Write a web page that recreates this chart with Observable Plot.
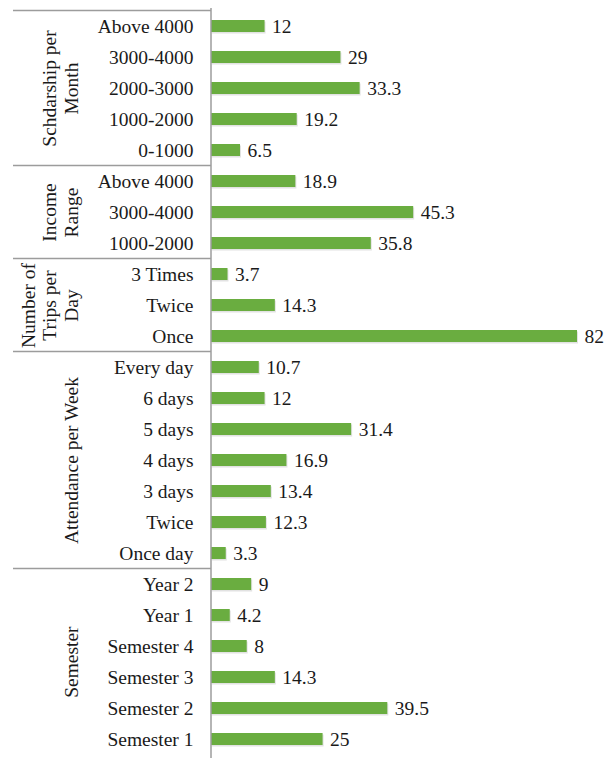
<!DOCTYPE html>
<html><head><meta charset="utf-8">
<script src="https://cdn.jsdelivr.net/npm/d3@7"></script>
<script src="https://cdn.jsdelivr.net/npm/@observablehq/plot@0.6"></script>
<style>
html,body{margin:0;padding:0;background:#fff;}
#chart{width:614px;height:758px;}
#chart svg text{font-family:"Liberation Serif","Times New Roman",serif;}
</style>
</head><body><div id="chart"></div>
<script>
// ---- data ----
const scholarshipCats = ["Above 4000", "3000-4000", "2000-3000", "1000-2000", "0-1000"];
const scholarshipVals = [12, 29, 33.3, 19.2, 6.5];
const incomeCats = ["Above 4000", "3000-4000", "1000-2000"];
const incomeVals = [18.9, 45.3, 35.8];
const tripsCats = ["3 Times", "Twice", "Once"];
const tripsVals = [3.7, 14.3, 82];
const attendanceCats = ["Every day", "6 days", "5 days", "4 days", "3 days", "Twice", "Once day"];
const attendanceVals = [10.7, 12, 31.4, 16.9, 13.4, 12.3, 3.3];
const semesterCats = ["Year 2", "Year 1", "Semester 4", "Semester 3", "Semester 2", "Semester 1"];
const semesterVals = [9, 4.2, 8, 14.3, 39.5, 25];
const groupTitles = ["Schdarship per\nMonth", "Income\nRange", "Number of\nTrips per\nDay", "Attendance per Week", "Semester"];

// ---- build table ----
const groupCats = [scholarshipCats, incomeCats, tripsCats, attendanceCats, semesterCats];
const groupVals = [scholarshipVals, incomeVals, tripsVals, attendanceVals, semesterVals];
const rows = [];
const groups = [];
groupCats.forEach((cats, g) => {
  const keys = cats.map((c, i) => `${g}-${i}`);
  cats.forEach((c, i) => rows.push({key: keys[i], label: c, value: groupVals[g][i]}));
  const n = cats.length;
  groups.push({title: groupTitles[g], first: keys[0], odd: n % 2 === 1,
               mid: n % 2 === 1 ? keys[(n - 1) / 2] : keys[n / 2 - 1]});
});
const keys = rows.map(d => d.key);

const W = 614, H = 758, mTop = 8, mBottom = 0, mLeft = 211, mRight = 37;
const step = (H - mTop - mBottom) / keys.length;
const font = "Liberation Serif, Times New Roman, serif";
const ink = "#1a1a1a";
const lineColor = "#9c9c9c";

const separators = (index, scales, values, dims) => {
  const g = d3.create("svg:g").attr("stroke", lineColor).attr("stroke-width", 1.5);
  const bw = scales.y.bandwidth ? scales.y.bandwidth() : step * 0.4;
  const pad = (step - bw) / 2;
  for (const gr of groups) {
    const yy = Math.round(scales.y(gr.first) - pad) + 0.5;
    g.append("line").attr("x1", 13).attr("x2", scales.x(0)).attr("y1", yy).attr("y2", yy);
  }
  return g.node();
};

const txt = {fontSize: 19.5, fill: ink, fontFamily: font};

const chart = Plot.plot({
  width: W, height: H,
  marginTop: mTop, marginBottom: mBottom, marginLeft: mLeft, marginRight: mRight,
  style: "font-family: 'Liberation Serif', 'Times New Roman', serif; background: #fff; overflow: visible;",
  x: {domain: [0, 82], axis: null},
  y: {domain: keys, paddingInner: 0.6, paddingOuter: 0.3, axis: null},
  marks: [
    Plot.barX(rows, {x: "value", y: "key", fill: "#7a7a7a", fillOpacity: 0.22, dx: 1, dy: 1.5}),
    Plot.barX(rows, {x: "value", y: "key", fill: "#6aad40"}),
    Plot.ruleX([0], {stroke: lineColor, strokeWidth: 1.5, dx: -0.5}),
    separators,
    Plot.text(rows, {x: 0, y: "key", text: "label", textAnchor: "end", dx: -18, ...txt}),
    Plot.text(rows, {x: "value", y: "key", text: d => String(d.value), textAnchor: "start", dx: 7, ...txt}),
    Plot.text(groups.filter(d => d.odd), {x: 0, y: "mid", text: "title", rotate: -90,
                     lineAnchor: "bottom", lineHeight: 1.1, dx: 77 - mLeft, ...txt}),
    Plot.text(groups.filter(d => !d.odd), {x: 0, y: "mid", text: "title", rotate: -90,
                     lineAnchor: "bottom", lineHeight: 1.1, dx: 77 - mLeft, dy: step / 2, ...txt})
  ]
});
document.getElementById("chart").appendChild(chart);
</script>
</body></html>
